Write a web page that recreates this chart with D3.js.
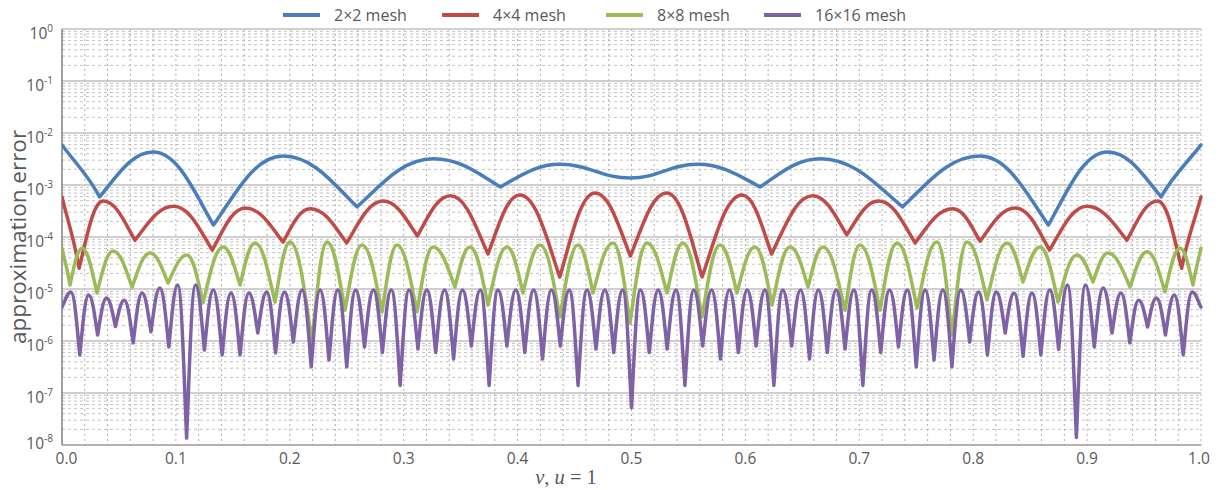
<!DOCTYPE html>
<html><head><meta charset="utf-8">
<script src="https://cdn.jsdelivr.net/npm/d3@7"></script>
<style>body{margin:0;background:#fff}text{font-family:"Open Sans",sans-serif}</style>
</head><body><svg id="c" width="1224" height="490"></svg>
<script>
const seriesNames = ["2×2 mesh", "4×4 mesh", "8×8 mesh", "16×16 mesh"];
const seriesColors = ["#4a7ebb", "#be4b48", "#9bbb59", "#7f62a6"];
const xTickValues = [0, 0.1, 0.2, 0.3, 0.4, 0.5, 0.6, 0.7, 0.8, 0.9, 1.0];
const yTickExponents = [0, -1, -2, -3, -4, -5, -6, -7, -8];

const mesh2 = [[0,5.9e-3],[0.033,5.9e-4],[0.080,4.3e-3],[0.133,1.7e-4],[0.194,3.6e-3],[0.259,3.8e-4],
  [0.326,3.2e-3],[0.385,9.2e-4],[0.437,2.5e-3],[0.499,1.36e-3],[0.558,2.5e-3],[0.613,9.2e-4],
  [0.666,3.2e-3],[0.738,3.8e-4],[0.806,3.6e-3],[0.866,1.7e-4],[0.918,4.3e-3],[0.965,5.9e-4],[1,5.9e-3]];

const mesh4 = [[0,5.9e-4],[0.015,2.5e-5],[0.036,4.9e-4],[0.064,8.7e-5],[0.098,3.9e-4],[0.132,5.6e-5],
  [0.161,3.6e-4],[0.194,8.0e-5],[0.218,3.5e-4],[0.250,7.7e-5],[0.282,4.9e-4],[0.312,1.05e-4],
  [0.341,6.2e-4],[0.374,4.7e-5],[0.402,6.4e-4],[0.437,1.7e-5],[0.468,7.0e-4],[0.499,4.3e-5],
  [0.531,7.0e-4],[0.562,1.7e-5],[0.597,6.4e-4],[0.623,4.7e-5],[0.659,6.2e-4],[0.689,1.1e-4],
  [0.717,4.9e-4],[0.749,7.7e-5],[0.782,3.5e-4],[0.806,8.3e-5],[0.837,3.6e-4],[0.867,5.6e-5],
  [0.900,3.9e-4],[0.935,8.7e-5],[0.962,4.9e-4],[0.983,2.5e-5],[1,5.9e-4]];

const mesh8 = [[0,6.1e-5],[0.007,1.19e-5],[0.0176,6.1e-5],[0.0307,8.4e-6],[0.0448,5.4e-5],[0.0615,1.09e-5],
  [0.0773,4.9e-5],[0.0931,1.3e-5],[0.1097,4.5e-5],[0.1238,5.4e-6],[0.1414,6.4e-5],[0.1563,1.19e-5],
  [0.1694,7.7e-5],[0.187,5.6e-6],[0.2002,8.0e-5],[0.2195,1.0e-6],[0.2327,8.0e-5],[0.2485,3.9e-6],
  [0.2634,7.0e-5],[0.281,3.6e-6],[0.2941,7.0e-5],[0.3117,3.6e-6],[0.3257,6.4e-5],[0.345,1.1e-5],
  [0.3582,6.4e-5],[0.374,4.9e-6],[0.3907,6.4e-5],[0.4047,8.4e-6],[0.4197,7.0e-5],[0.4372,2.9e-6],
  [0.453,7.0e-5],[0.4662,8.4e-6],[0.4838,7.7e-5],[0.4987,2.2e-6],[0.5136,7.7e-5],[0.5312,8.4e-6],
  [0.5452,7.7e-5],[0.5619,2.9e-6],[0.5777,7.0e-5],[0.5926,8.4e-6],[0.6084,6.4e-5],[0.6234,4.9e-6],
  [0.6392,6.4e-5],[0.655,1.1e-5],[0.6681,6.4e-5],[0.6875,3.9e-6],[0.7006,7.0e-5],[0.7182,3.9e-6],
  [0.7331,7.7e-5],[0.7507,4.3e-6],[0.7682,8.0e-5],[0.7814,1.3e-6],[0.7946,8.0e-5],[0.8121,6.2e-6],
  [0.8297,7.7e-5],[0.8437,1.36e-5],[0.8587,6.4e-5],[0.8745,5.6e-6],[0.8911,4.5e-5],[0.9052,1.36e-5],
  [0.9183,4.9e-5],[0.9377,1.09e-5],[0.9526,5.2e-5],[0.9684,8.8e-6],[0.9816,6.1e-5],[0.993,1.19e-5],[1,6.1e-5]];

const mesh16 = [[0,4.5e-6],
  [0.0078,8.8e-6],[0.0156,5.4e-7],[0.0234,7.7e-6],[0.0313,1.3e-6],[0.0391,6.7e-6],[0.0469,1.9e-6],
  [0.0547,6.1e-6],[0.0625,9.2e-7],[0.0703,8.4e-6],[0.0781,1.5e-6],[0.0859,1.04e-5],[0.0938,7.7e-7],
  [0.1016,1.19e-5],[0.1094,1.36e-8],[0.1172,1.19e-5],[0.125,6.7e-7],[0.1328,9.6e-6],[0.1406,5.4e-7],
  [0.1484,8.4e-6],[0.1563,5.4e-7],[0.1641,8.4e-6],[0.1719,1.43e-6],[0.1797,8.8e-6],[0.1875,5.9e-7],
  [0.1953,8.8e-6],[0.2031,9.6e-7],[0.2109,9.6e-6],[0.2188,3.2e-7],[0.2266,9.6e-6],[0.2344,4.3e-7],
  [0.2422,9.6e-6],[0.25,3.2e-7],[0.2578,9.6e-6],[0.2656,7.7e-7],[0.2734,9.6e-6],[0.2813,6.0e-7],
  [0.2891,9.6e-6],[0.2969,1.4e-7],[0.3047,9.6e-6],[0.3125,7.0e-7],[0.3203,9.6e-6],[0.3281,6.0e-7],
  [0.3359,9.6e-6],[0.3438,4.5e-7],[0.3516,9.6e-6],[0.3594,8.0e-7],[0.3672,9.6e-6],[0.375,1.4e-7],
  [0.3828,9.6e-6],[0.3906,8.0e-7],[0.3984,9.6e-6],[0.4063,6.0e-7],[0.4141,9.6e-6],[0.4219,4.5e-7],
  [0.4297,9.6e-6],[0.4375,8.0e-7],[0.4453,9.6e-6],[0.4531,1.4e-7],[0.4609,9.6e-6],[0.4688,7.0e-7],
  [0.4766,9.6e-6],[0.4844,6.0e-7],[0.4922,9.6e-6],[0.5,5.2e-8],[0.5078,9.6e-6],[0.5156,6.0e-7],
  [0.5234,9.6e-6],[0.5313,7.0e-7],[0.5391,9.6e-6],[0.5469,1.4e-7],[0.5547,9.6e-6],[0.5625,8.0e-7],
  [0.5703,9.6e-6],[0.5781,4.5e-7],[0.5859,9.6e-6],[0.5938,6.0e-7],[0.6016,9.6e-6],[0.6094,8.0e-7],
  [0.6172,9.6e-6],[0.625,1.4e-7],[0.6328,9.6e-6],[0.6406,8.0e-7],[0.6484,9.6e-6],[0.6563,4.5e-7],
  [0.6641,9.6e-6],[0.6719,6.0e-7],[0.6797,9.6e-6],[0.6875,7.0e-7],[0.6953,9.6e-6],[0.7031,1.4e-7],
  [0.7109,9.6e-6],[0.7188,6.0e-7],[0.7266,9.6e-6],[0.7344,7.7e-7],[0.7422,9.6e-6],[0.75,3.2e-7],
  [0.7578,9.6e-6],[0.7656,4.3e-7],[0.7734,9.6e-6],[0.7813,3.2e-7],[0.7891,9.6e-6],[0.7969,9.6e-7],
  [0.8047,8.8e-6],[0.8125,5.4e-7],[0.8203,8.8e-6],[0.8281,1.43e-6],[0.8359,8.4e-6],[0.8438,5.1e-7],
  [0.8516,8.4e-6],[0.8594,5.4e-7],[0.8672,9.6e-6],[0.875,6.9e-7],[0.8828,1.19e-5],[0.8906,1.4e-8],
  [0.8984,1.19e-5],[0.9063,7.7e-7],[0.9141,1.04e-5],[0.9219,1.43e-6],[0.9297,8.4e-6],[0.9375,9.2e-7],
  [0.9453,6.1e-6],[0.9531,1.86e-6],[0.9609,6.7e-6],[0.9688,1.3e-6],[0.9766,7.7e-6],[0.9844,5.4e-7],
  [0.9922,8.8e-6],[1,4.5e-6]];

const allSeries = [mesh2, mesh4, mesh8, mesh16];

const L = 62, R = 1201, T = 29, B = 445;
const svg = d3.select("#c");
const x = d3.scaleLinear().domain([0, 1]).range([L, R]);
const y = d3.scaleLog().domain([1e-8, 1]).range([B, T]);

// custom curve: rounded arches at maxima, V-shaped minima
function CuspCurve(ctx) { this._context = ctx; }
CuspCurve.prototype = {
  areaStart() { this._line = 0; }, areaEnd() { this._line = NaN; },
  lineStart() { this._p = []; },
  point(px, py) { this._p.push([+px, +py]); },
  lineEnd() {
    const p = this._p, n = p.length, c = this._context;
    if (!n) return;
    const type = p.map((q, i) => {
      if (i === 0 || i === n - 1) return "end";
      const a = p[i - 1][1], b = p[i + 1][1];
      if (q[1] > a && q[1] > b) return (q[1] - Math.max(a, b) > 18) ? "cusp" : "smooth";
      if (q[1] < a && q[1] < b) return "smooth";
      return "mid";
    });
    const kx = 0.3, ky = 0.42, ka = 0.42;
    c.moveTo(p[0][0], p[0][1]);
    for (let i = 0; i < n - 1; i++) {
      const P = p[i], Q = p[i + 1], dx = Q[0] - P[0], dy = Q[1] - P[1];
      let c1, c2;
      if (type[i] === "smooth") c1 = [P[0] + ka * dx, P[1]];
      else if (type[i] === "cusp") c1 = [P[0] + kx * dx, P[1] + ky * dy];
      else c1 = [P[0] + dx / 3, P[1] + dy / 3];
      if (type[i + 1] === "smooth") c2 = [Q[0] - ka * dx, Q[1]];
      else if (type[i + 1] === "cusp") c2 = [Q[0] - kx * dx, Q[1] - ky * dy];
      else c2 = [Q[0] - dx / 3, Q[1] - dy / 3];
      c.bezierCurveTo(c1[0], c1[1], c2[0], c2[1], Q[0], Q[1]);
    }
  }
};
const cuspCurve = ctx => new CuspCurve(ctx);

const grid = svg.append("g");
const minorVals = [];
yTickExponents.filter(e => e < 0).forEach(e => { for (let m = 2; m <= 9; m++) minorVals.push(m * Math.pow(10, e)); });
grid.selectAll(".hmin").data(minorVals).join("line")
  .attr("x1", L).attr("x2", R).attr("y1", d => y(d)).attr("y2", d => y(d))
  .attr("stroke", "#c4c4c4").attr("stroke-width", 1).attr("stroke-dasharray", "3,3");
grid.selectAll(".v").data(x.ticks(50).filter(d => d > 0)).join("line")
  .attr("x1", d => x(d)).attr("x2", d => x(d)).attr("y1", T).attr("y2", B)
  .attr("stroke", "#b0b0b0").attr("stroke-width", 1).attr("stroke-dasharray", "2,3");
grid.selectAll(".hmaj").data(yTickExponents.filter(e => e > -8)).join("line")
  .attr("x1", L).attr("x2", R).attr("y1", e => y(Math.pow(10, e))).attr("y2", e => y(Math.pow(10, e)))
  .attr("stroke", "#c0c0c0").attr("stroke-width", 1.6);
svg.append("line").attr("x1", L).attr("x2", R).attr("y1", B).attr("y2", B).attr("stroke", "#999").attr("stroke-width", 1.5);
svg.append("line").attr("x1", L).attr("x2", L).attr("y1", T).attr("y2", B).attr("stroke", "#808080").attr("stroke-width", 1.5);

svg.append("clipPath").attr("id", "clip").append("rect").attr("x", L).attr("y", T - 2).attr("width", R - L + 2).attr("height", B - T + 2);
const line = d3.line().x(d => x(d[0])).y(d => y(d[1])).curve(cuspCurve);
svg.append("g").attr("clip-path", "url(#clip)").selectAll("path").data(allSeries).join("path")
  .attr("d", line).attr("fill", "none").attr("stroke", (d, i) => seriesColors[i])
  .attr("stroke-width", 3.5).attr("stroke-linejoin", "round").attr("stroke-linecap", "round");

const yl = svg.append("g").attr("fill", "#595959");
yTickExponents.forEach(e => {
  const yy = y(Math.pow(10, e)) + (e === -8 ? 4 : 10);
  const t = yl.append("text").attr("x", 53).attr("y", yy).attr("text-anchor", "end").attr("font-size", 15.5);
  t.append("tspan").text("10");
  t.append("tspan").attr("dy", -7).attr("font-size", 10).text(String(e));
});
svg.append("g").attr("fill", "#595959").selectAll("text").data(xTickValues).join("text")
  .attr("x", d => x(d) + (d === 0 ? 4.5 : d === 1 ? -2 : 0)).attr("y", 464)
  .attr("text-anchor", "middle").attr("font-size", 15.5).text(d => d3.format(".1f")(d));

svg.append("text").attr("transform", "translate(26,237) rotate(-90)").attr("text-anchor", "middle")
  .attr("font-size", 22.5).attr("fill", "#595959").text("approximation error");
const xt = svg.append("text").attr("x", 566).attr("y", 484).attr("text-anchor", "middle")
  .attr("font-size", 20.5).attr("fill", "#595959").style("font-family", "'Liberation Serif',serif");
xt.append("tspan").attr("font-style", "italic").text("v");
xt.append("tspan").text(", ");
xt.append("tspan").attr("font-style", "italic").text("u");
xt.append("tspan").text(" = 1");

const legX = [283, 442, 606, 764];
const lg = svg.append("g").selectAll("g").data(seriesNames).join("g")
  .attr("transform", (d, i) => `translate(${legX[i]},0)`);
lg.append("line").attr("x1", 0).attr("x2", 37).attr("y1", 15).attr("y2", 15)
  .attr("stroke", (d, i) => seriesColors[i]).attr("stroke-width", 4);
lg.append("text").attr("x", 51).attr("y", 21).attr("font-size", 16).attr("fill", "#595959").text(d => d);
</script></body></html>
